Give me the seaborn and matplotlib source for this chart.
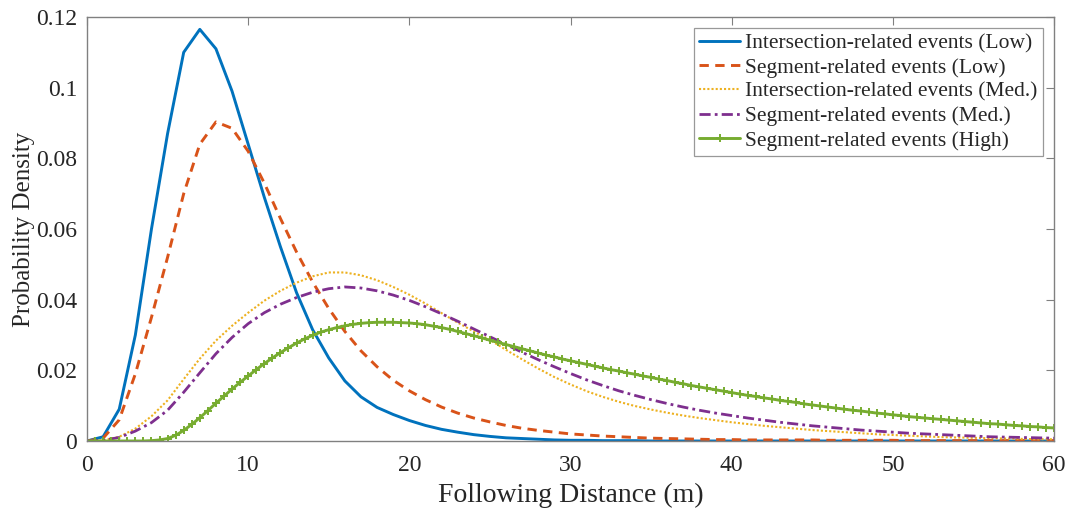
import numpy as np
import pandas as pd
import matplotlib
matplotlib.use('Agg')
import matplotlib.pyplot as plt
import seaborn as sns

# distances (m) for the four plain curves, 1 m apart
dist = list(range(0, 61))

int_low = [0, 0.0012, 0.0090, 0.0300, 0.0600, 0.0870, 0.1100, 0.1165, 0.1110, 0.0990,
           0.0840, 0.0690, 0.0550, 0.0420, 0.0315, 0.0235, 0.0170, 0.0125, 0.0095, 0.0075,
           0.0058, 0.0044, 0.0033, 0.0025, 0.0018, 0.0013, 0.0009, 0.0007, 0.0005, 0.0003,
           0.0002, 0.0002, 0.0001, 0.0001, 0.0001, 0, 0, 0, 0, 0,
           0, 0, 0, 0, 0, 0, 0, 0, 0, 0,
           0, 0, 0, 0, 0, 0, 0, 0, 0, 0, 0]

seg_low = [0, 0.0008, 0.0060, 0.0190, 0.0350, 0.0520, 0.0700, 0.0840, 0.0903, 0.0885,
           0.0820, 0.0730, 0.0630, 0.0535, 0.0450, 0.0375, 0.0310, 0.0255, 0.0210, 0.0172,
           0.0142, 0.0117, 0.0096, 0.0079, 0.0065, 0.0054, 0.0044, 0.0036, 0.0030, 0.0025,
           0.0020, 0.0017, 0.0014, 0.0012, 0.0010, 0.0008, 0.0007, 0.0006, 0.0005, 0.0004,
           0.0004, 0.0003, 0.0003, 0.0003, 0.0003, 0.0003, 0.0002, 0.0002, 0.0002, 0.0002,
           0.0002, 0.0001, 0.0001, 0.0001, 0.0001, 0.0001, 0.0001, 0.0001, 0.0001, 0.0001, 0.0001]

int_med = [0, 0.0002, 0.0012, 0.0035, 0.0070, 0.0115, 0.0175, 0.0233, 0.0284, 0.0326,
           0.0363, 0.0397, 0.0425, 0.0448, 0.0466, 0.0477, 0.0477, 0.0469, 0.0455, 0.0436,
           0.0414, 0.0389, 0.0362, 0.0335, 0.0310, 0.0286, 0.0258, 0.0231, 0.0205, 0.0181,
           0.0160, 0.0141, 0.0125, 0.0111, 0.0099, 0.0089, 0.0080, 0.0072, 0.0065, 0.0059,
           0.0053, 0.0048, 0.0043, 0.0039, 0.0035, 0.0031, 0.0028, 0.0025, 0.0022, 0.0019,
           0.0017, 0.0015, 0.0013, 0.0011, 0.0010, 0.0009, 0.0008, 0.0007, 0.0006, 0.0005, 0.0005]

seg_med = [0, 0.0002, 0.0010, 0.0028, 0.0052, 0.0087, 0.0138, 0.0193, 0.0247, 0.0293,
           0.0332, 0.0363, 0.0387, 0.0406, 0.0421, 0.0431, 0.0436, 0.0433, 0.0425, 0.0413,
           0.0398, 0.0380, 0.0360, 0.0339, 0.0317, 0.0295, 0.0273, 0.0251, 0.0230, 0.0210,
           0.0191, 0.0173, 0.0157, 0.0142, 0.0129, 0.0117, 0.0106, 0.0096, 0.0087, 0.0079,
           0.0072, 0.0065, 0.0059, 0.0053, 0.0048, 0.0043, 0.0039, 0.0035, 0.0031, 0.0028,
           0.0025, 0.0022, 0.0020, 0.0018, 0.0016, 0.0014, 0.0012, 0.0011, 0.0010, 0.0009, 0.0008]

# high-risk segment curve is marked every 0.5 m
dist_half = [i / 2 for i in range(0, 121)]
seg_high = [0, 0, 0, 0, 0, 0, 0, 0, 0.0001, 0.0003,
            0.0007, 0.0016, 0.0030, 0.0047, 0.0066, 0.0086, 0.0107, 0.0127, 0.0147, 0.0166,
            0.0184, 0.0202, 0.0219, 0.0235, 0.0250, 0.0264, 0.0277, 0.0289, 0.0299, 0.0308,
            0.0315, 0.0321, 0.0326, 0.0330, 0.0333, 0.0335, 0.0336, 0.0336, 0.0336, 0.0335,
            0.0334, 0.0332, 0.0329, 0.0325, 0.0321, 0.0316, 0.0310, 0.0304, 0.0298, 0.0292,
            0.0285, 0.0279, 0.0273, 0.0267, 0.0261, 0.0255, 0.0249, 0.0243, 0.0238, 0.0232,
            0.0227, 0.0222, 0.0217, 0.0212, 0.0207, 0.0202, 0.0198, 0.0193, 0.0189, 0.0184,
            0.0180, 0.0175, 0.0171, 0.0166, 0.0162, 0.0157, 0.0153, 0.0149, 0.0145, 0.0141,
            0.0137, 0.0133, 0.0129, 0.0126, 0.0122, 0.0119, 0.0115, 0.0112, 0.0109, 0.0105,
            0.0102, 0.0099, 0.0096, 0.0093, 0.0090, 0.0087, 0.0085, 0.0082, 0.0079, 0.0077,
            0.0074, 0.0072, 0.0069, 0.0067, 0.0065, 0.0063, 0.0061, 0.0059, 0.0057, 0.0055,
            0.0053, 0.0051, 0.0049, 0.0048, 0.0046, 0.0044, 0.0043, 0.0041, 0.0040, 0.0038,
            0.0037]

labels = ['Intersection-related events (Low)', 'Segment-related events (Low)',
          'Intersection-related events (Med.)', 'Segment-related events (Med.)',
          'Segment-related events (High)']
colors = ['#0072BD', '#D95319', '#EDB120', '#7E2F8E', '#77AC30']

x_ticks = [0, 10, 20, 30, 40, 50, 60]
y_ticks = [0, 0.02, 0.04, 0.06, 0.08, 0.1, 0.12]
y_tick_labels = ['0', '0.02', '0.04', '0.06', '0.08', '0.1', '0.12']

sns.set_theme(style='white')
plt.rcParams['font.family'] = ['Liberation Serif', 'DejaVu Serif']

fig = plt.figure(figsize=(10.7, 5.12), dpi=100)
ax = fig.add_axes([87 / 1070, 1 - 441 / 512, (1054 - 87) / 1070, (441 - 17) / 512])

sns.lineplot(x=dist, y=int_low, ax=ax, color=colors[0], lw=2.1, label=labels[0])
sns.lineplot(x=dist, y=seg_low, ax=ax, color=colors[1], lw=2.1, label=labels[1],
             linestyle=(0, (3.2, 2.2)))
sns.lineplot(x=dist, y=int_med, ax=ax, color=colors[2], lw=1.5, label=labels[2],
             linestyle=(0, (1, 1)))
sns.lineplot(x=dist, y=seg_med, ax=ax, color=colors[3], lw=2.0, label=labels[3],
             linestyle=(0, (4, 1.5, 1, 1.5)))
sns.lineplot(x=dist_half, y=seg_high, ax=ax, color=colors[4], lw=2.1, label=labels[4],
             marker='+', markersize=5.5, markeredgewidth=1.4,
             markeredgecolor=colors[4], markerfacecolor=colors[4])

ax.set_xlim(0, 60)
ax.set_ylim(0, 0.12)
ax.set_xticks(x_ticks)
ax.set_yticks(y_ticks)
ax.set_yticklabels(y_tick_labels)
ax.tick_params(direction='in', length=6, width=0.8, color='#808080',
               labelsize=17, labelcolor='#262626', top=True, right=True)
ax.tick_params(axis='x', pad=10)
ax.tick_params(axis='y', pad=7)
for s in ax.spines.values():
    s.set_color('#808080')
    s.set_linewidth(1.0)

ax.set_xlabel('Following Distance (m)', fontsize=20, color='#262626', labelpad=5)
ax.set_ylabel('Probability Density', fontsize=18, color='#262626', labelpad=1)

leg = ax.legend(loc='upper right', fontsize=15.5, frameon=True, fancybox=False,
                handlelength=1.9, handletextpad=0.25, borderpad=0.25,
                labelspacing=0.2, borderaxespad=0.5)
leg.get_frame().set_edgecolor('#808080')
leg.get_frame().set_linewidth(0.9)

fig.savefig('out.png', dpi=100)
